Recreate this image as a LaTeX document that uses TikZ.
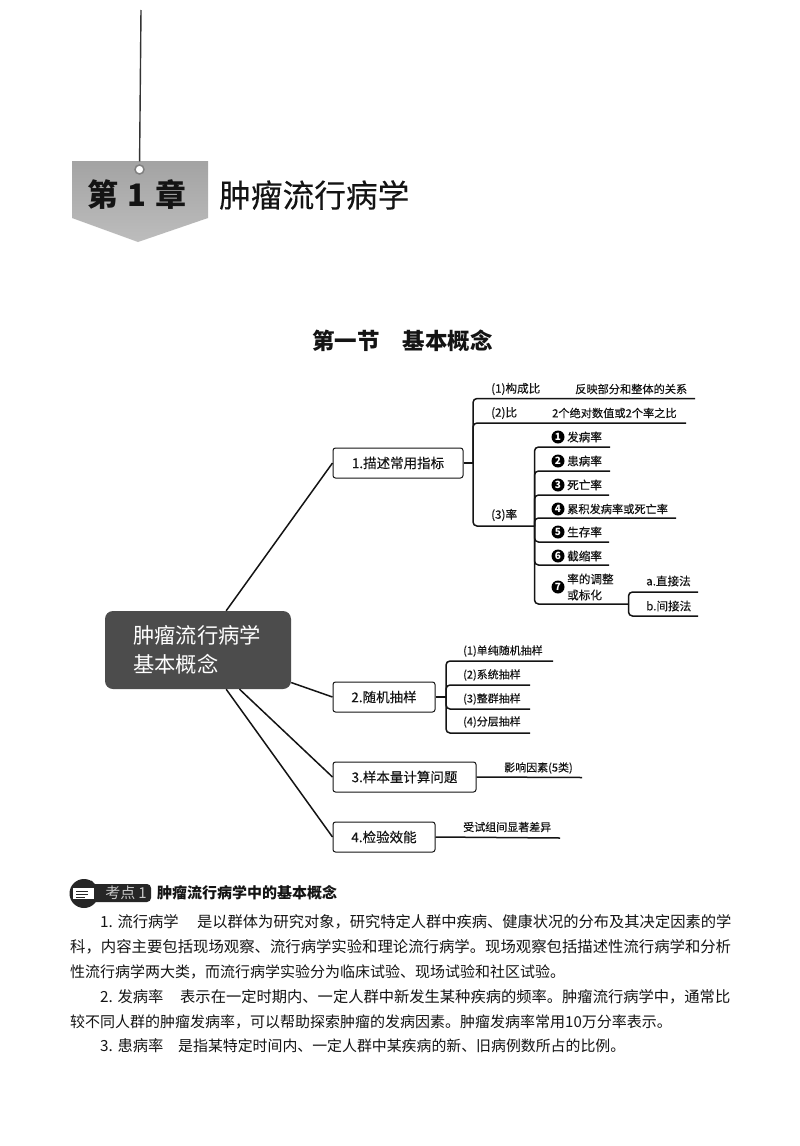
\documentclass[tikz,border=0pt]{standalone}
\usepackage{fontspec}
\setmainfont{Noto Sans CJK SC}
\newfontfamily\labf{Noto Sans CJK SC}[FakeBold=0.25]
\usetikzlibrary{calc}
\definecolor{ink}{HTML}{141414}
\newcommand\lf[1]{\labf\fontsize{#1}{16}\selectfont}
\tikzset{
  x=1pt,y=-1pt,
  lab/.style={anchor=west,inner sep=0pt,text=ink,font=\lf{11.6}},
  box/.style={draw=ink,line width=1pt,rounded corners=2.5pt,fill=white,inner sep=0pt,text=ink,font=\lf{13.5}},
  br/.style={draw=ink,line width=1.5pt,rounded corners=4pt},
  spoke/.style={draw=ink,line width=1.5pt},
  num/.style={circle,fill=black,text=white,inner sep=0pt,minimum size=13pt,font=\fontsize{10}{10}\selectfont\bfseries},
  bodytxt/.style={anchor=west,inner sep=0pt,text=ink,font=\fontsize{15.3}{18}\selectfont},
}
\newcommand\bl[4]{\node[bodytxt,font=\fontsize{#3}{18}\selectfont] (#1) at (#2) {#4};}
\begin{document}
\begin{tikzpicture}
\useasboundingbox (0,0) rectangle (800,1146);
\fill[white] (0,0) rectangle (800,1146);
% chapter tag
\coordinate (threadtop) at (141,10);
\path[top color=black!36,bottom color=black!26] (72,161) -- (208,161) -- (208,218) -- (138,242) -- (72,218) -- cycle;
\node[circle,draw=black!50,fill=white,line width=1.5pt,minimum size=9pt,inner sep=0pt] (ring) at (139.5,169.5) {};
\draw[black!80,line width=1.4pt,shorten >=3pt] (threadtop) -- (ring);
\node[inner sep=0pt,text=ink,font=\fontsize{31}{34}\selectfont\bfseries] (chapno) at (137,195) {第\hspace{9pt}1\hspace{9pt}章};
\node[anchor=west,inner sep=0pt,text=ink,font=\lf{31.7}] (chaptitle) at (219,195) {肿瘤流行病学};
\node[inner sep=0pt,text=ink,font=\fontsize{22.5}{26}\selectfont\bfseries] (section) at (402.5,341) {第一节\hspace{23pt}基本概念};
% central node
\node[draw=none,rounded corners=8pt,fill=black!70,minimum width=186pt,minimum height=78pt,inner sep=0pt] (c) at (198,650) {};
\node[lab,text=white,font=\fontsize{21.3}{24}\selectfont] (c1) at (133,635) {肿瘤流行病学};
\node[lab,text=white,font=\fontsize{21.3}{24}\selectfont] (c2) at (133,664) {基本概念};
% level 1 boxes
\node[box,minimum width=130pt,minimum height=30pt] (b1) at (398,463) {1.描述常用指标};
\node[box,minimum width=102pt,minimum height=30pt] (b2) at (384,697) {2.随机抽样};
\node[box,minimum width=143pt,minimum height=30pt] (b3) at (404.5,777) {3.样本量计算问题};
\node[box,minimum width=102pt,minimum height=30pt] (b4) at (384,837) {4.检验效能};
\draw[spoke] (c) -- (b1.west);
\draw[spoke] (c) -- (b2.west);
\draw[spoke] (c) -- (b3.west);
\draw[spoke] (c) -- (b4.west);
% branch 1
\coordinate (j1) at (473,463);
\coordinate (e11) at (695,398.5);
\coordinate (e12) at (686,423);
\coordinate (e13) at (534.5,526);
\draw[br] (b1.east) -- (j1);
\draw[br] (j1) |- (e11);
\draw[br] (j1) |- (e12);
\draw[br] (j1) |- (e13);
\node[lab] (l11) at (491,389) {(1)构成比};
\node[lab,font=\lf{11.2}] (t11) at (575,389) {反映部分和整体的关系};
\node[lab] (l12) at (491,413) {(2)比};
\node[lab,font=\lf{11.2}] (t12) at (552,413) {2个绝对数值或2个率之比};
\node[lab] (l13) at (491,515) {(3)率};
% rates
\coordinate (e1) at (610,447);
\coordinate (e2) at (610,471);
\coordinate (e3) at (609,495);
\coordinate (e4) at (676,518);
\coordinate (e5) at (609,542);
\coordinate (e6) at (609,565);
\coordinate (e7) at (628.5,604);
\foreach \p in {e1,e2,e3,e4,e5,e6,e7}{\draw[br] (e13) |- (\p);}
\coordinate (ea) at (698,592);
\coordinate (eb) at (698,616);
\draw[br] (e7) |- (ea);
\draw[br] (e7) |- (eb);
\node[num] (n1) at (558,437) {1};
\node[num] (n2) at (558,461) {2};
\node[num] (n3) at (558,485) {3};
\node[num] (n4) at (558,509) {4};
\node[num] (n5) at (558,532) {5};
\node[num] (n6) at (558,556) {6};
\node[num] (n7) at (558,587) {7};
\node[lab] (r1) at (567,437) {发病率};
\node[lab] (r2) at (567,461) {患病率};
\node[lab] (r3) at (567,485) {死亡率};
\node[lab,font=\lf{11.2}] (r4) at (567,509) {累积发病率或死亡率};
\node[lab] (r5) at (567,532) {生存率};
\node[lab] (r6) at (567,556) {截缩率};
\node[lab] (r7a) at (567,579) {率的调整};
\node[lab] (r7b) at (567,595) {或标化};
\node[lab] (ra) at (646,581) {a.直接法};
\node[lab] (rb) at (646,606) {b.间接法};
% branch 2
\coordinate (j2) at (446,697);
\coordinate (s1) at (553,661);
\coordinate (s2) at (530,685);
\coordinate (s3) at (530,709);
\coordinate (s4) at (530,733);
\draw[br] (b2.east) -- (j2);
\foreach \p in {s1,s2,s3,s4}{\draw[br] (j2) |- (\p);}
\node[lab,font=\lf{11}] (sl1) at (463,651) {(1)单纯随机抽样};
\node[lab,font=\lf{11}] (sl2) at (463,675) {(2)系统抽样};
\node[lab,font=\lf{11}] (sl3) at (463,699) {(3)整群抽样};
\node[lab,font=\lf{11}] (sl4) at (463,722) {(4)分层抽样};
% branch 3, 4
\coordinate (e3b) at (582,777.5);
\coordinate (e4b) at (560,838);
\draw[br] (b3.east) -- (e3b);
\draw[br] (b4.east) -- (e4b);
\node[lab,font=\lf{11}] (t3) at (504,768) {影响因素(5类)};
\node[lab,font=\lf{11}] (t4) at (463,827) {受试组间显著差异};
% badge
\fill[black!85,rounded corners=4pt] (84,884) rectangle (151,902);
\fill[black!85] (84,893.5) circle (14.5);
\fill[white] (73,888) rectangle (94,899);
\draw[black!85,line width=0.8pt] (76,891) -- (88,891) (76,894) -- (88,894) (76,897) -- (85,897);
\draw[black!85,line width=1.5pt] (88,887) -- (92,881);
\node[inner sep=0pt,text=black!22,font=\fontsize{15}{16}\selectfont] (kd) at (126,893) {考点\hspace{3pt}1};
\node[lab,font=\fontsize{15}{18}\selectfont\bfseries] (kh) at (157,893) {肿瘤流行病学中的基本概念};
% body
\node[bodytxt] (h1) at (100,922) {1. 流行病学};
\bl{x1}{197,922}{15.26}{是以群体为研究对象，研究特定人群中疾病、健康状况的分布及其决定因素的学}
\bl{x2}{70,947}{15.37}{科，内容主要包括现场观察、流行病学实验和理论流行病学。现场观察包括描述性流行病学和分析}
\bl{x3}{70,972}{15}{性流行病学两大类，而流行病学实验分为临床试验、现场试验和社区试验。}
\node[bodytxt] (h2) at (100,997) {2. 发病率};
\bl{x4}{180,997}{15.28}{表示在一定时期内、一定人群中新发生某种疾病的频率。肿瘤流行病学中，通常比}
\bl{x5}{70,1022}{15}{较不同人群的肿瘤发病率，可以帮助探索肿瘤的发病因素。肿瘤发病率常用10万分率表示。}
\node[bodytxt] (h3) at (100,1046) {3. 患病率};
\bl{x6}{178,1046}{14.9}{是指某特定时间内、一定人群中某疾病的新、旧病例数所占的比例。}
\end{tikzpicture}
\end{document}
